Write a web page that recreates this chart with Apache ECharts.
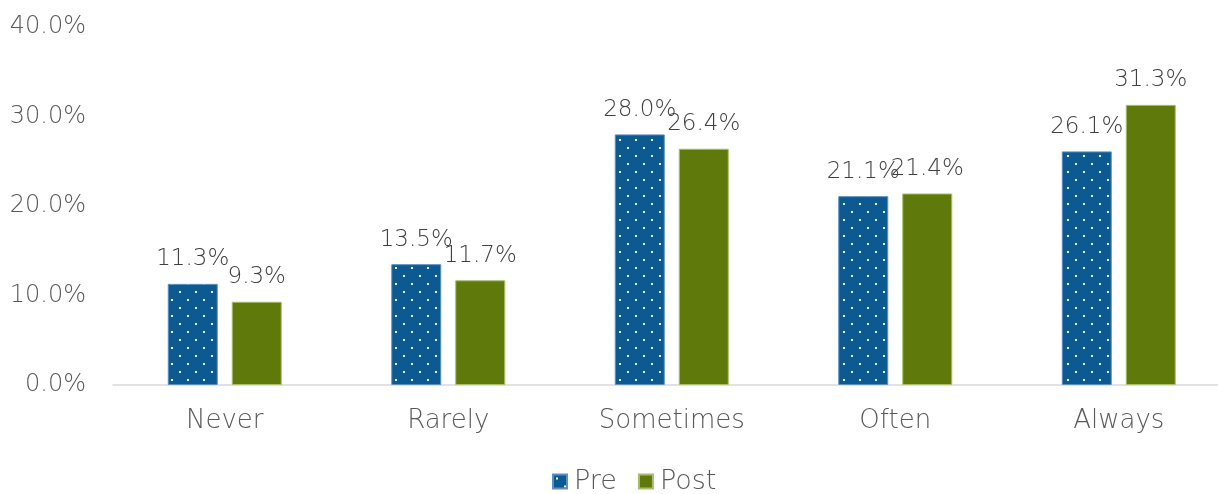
<!DOCTYPE html>
<html><head><meta charset="utf-8">
<script src="https://cdn.jsdelivr.net/npm/echarts@6/dist/echarts.min.js"></script>
<style>html,body{margin:0;padding:0;background:#fff}#c{width:1218px;height:494px}</style>
</head><body><div id="c"></div>
<script>
const categories = ['Never', 'Rarely', 'Sometimes', 'Often', 'Always'];
const preValues = [11.3, 13.5, 28.0, 21.1, 26.1];
const postValues = [9.3, 11.7, 26.4, 21.4, 31.3];
const yTicks = [0, 10, 20, 30, 40];

const BLUE = '#0B5A94', GREEN = '#5F7A0A';
function dotPattern() {
  const c = document.createElement('canvas');
  c.width = 16; c.height = 16;
  const g = c.getContext('2d');
  g.fillStyle = BLUE; g.fillRect(0, 0, 16, 16);
  g.fillStyle = '#ffffff';
  g.fillRect(3, 3, 2, 2);
  g.fillRect(11, 11, 2, 2);
  return c;
}
const pat = { image: dotPattern(), repeat: 'repeat' };
const FONT = 'DejaVu Sans';
const FW = 200;
const chart = echarts.init(document.getElementById('c'));
chart.setOption({
  animation: false,
  textStyle: { fontFamily: FONT, fontWeight: FW },
  grid: { left: 113, top: 27, width: 1117.5, height: 358, containLabel: false, outerBoundsMode: 'none' },
  legend: {
    bottom: -6, left: 547, itemWidth: 14, itemHeight: 14, itemGap: 21,
    icon: 'rect',
    textStyle: { fontSize: 27, color: '#595959', fontFamily: FONT, fontWeight: FW, padding: [0, 0, 0, 2] },
    data: [{ name: 'Pre', itemStyle: { color: pat } }, { name: 'Post' }]
  },
  xAxis: {
    type: 'category', data: categories,
    axisLine: { lineStyle: { color: '#D9D9D9', width: 1.5 } },
    axisTick: { show: false },
    axisLabel: { fontSize: 26, color: '#595959', margin: 23, fontFamily: FONT, fontWeight: FW }
  },
  yAxis: {
    type: 'value', min: yTicks[0], max: yTicks[yTicks.length - 1], interval: 10,
    splitLine: { show: false }, axisLine: { show: false }, axisTick: { show: false },
    axisLabel: { fontSize: 24, color: '#595959', margin: 27, fontFamily: FONT, fontWeight: FW,
      formatter: v => v.toFixed(1) + '%' }
  },
  series: [
    { name: 'Pre', type: 'bar', data: preValues, barWidth: 50, barGap: '28%',
      itemStyle: { color: pat, borderColor: '#5C8FBF', borderWidth: 1 },
      label: { show: true, position: 'top', distance: 13, fontSize: 23, color: '#404040', fontFamily: FONT, fontWeight: FW,
        formatter: p => p.value.toFixed(1) + '%' } },
    { name: 'Post', type: 'bar', data: postValues, barWidth: 50,
      itemStyle: { color: GREEN, borderColor: '#A9BD6F', borderWidth: 1 },
      label: { show: true, position: 'top', distance: 13, fontSize: 23, color: '#404040', fontFamily: FONT, fontWeight: FW,
        formatter: p => p.value.toFixed(1) + '%' } }
  ]
});
</script></body></html>
